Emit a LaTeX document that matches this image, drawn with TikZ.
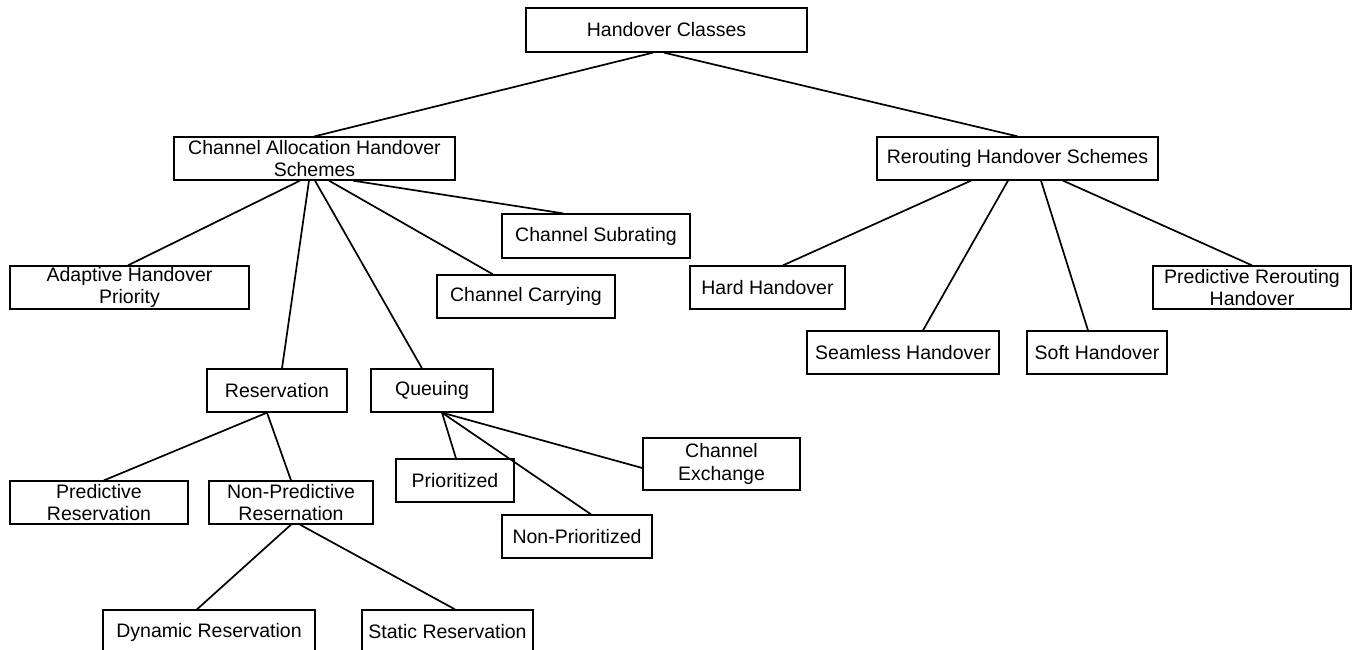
\documentclass[tikz,border=0pt]{standalone}
\usepackage{fontspec}
\setmainfont{Liberation Sans}
\begin{document}
\begin{tikzpicture}[x=1pt,y=-1pt,
  box/.style={draw=black, line width=1.3pt, inner sep=0pt, align=center,
    minimum height=43pt, font=\fontsize{19.5}{22.5}\selectfont},
  link/.style={draw=black, line width=1.7pt}]
\clip (0,0) rectangle (1358,649);
\fill[white] (0,0) rectangle (1358,649);
% nodes
\node[box, minimum width=281pt, minimum height=44pt] (HC) at (666.5,30) {Handover Classes};
\node[box, minimum width=281pt] (CA) at (314.5,158.5) {Channel Allocation Handover\\Schemes};
\node[box, minimum width=281pt] (RH) at (1017.5,158.5) {Rerouting Handover Schemes};
\node[box, minimum width=188pt, minimum height=44pt] (CS) at (596,236) {Channel Subrating};
\node[box, minimum width=239pt] (AP) at (129.5,287.5) {Adaptive Handover\\Priority};
\node[box, minimum width=178pt] (CC) at (526,296.5) {Channel Carrying};
\node[box, minimum width=155pt] (HH) at (767.5,287.5) {Hard Handover};
\node[box, minimum width=198pt] (PR) at (1252,287.5) {Predictive Rerouting\\Handover};
\node[box, minimum width=192pt] (SH) at (903,352.5) {Seamless Handover};
\node[box, minimum width=140pt] (SoH) at (1097,352.5) {Soft Handover};
\node[box, minimum width=140pt] (Res) at (277,390.5) {Reservation};
\node[box, minimum width=122pt] (Q) at (432,390.5) {Queuing};
\node[box, minimum width=118pt] (Pri) at (455,480.5) {Prioritized};
\node[box, minimum width=157pt, minimum height=52pt] (CE) at (721.5,464) {Channel\\Exchange};
\node[box, minimum width=178pt] (PRes) at (99,502.5) {Predictive\\Reservation};
\node[box, minimum width=164pt] (NPR) at (291,502.5) {Non-Predictive\\Resernation};
\node[box, minimum width=150pt] (NP) at (577,536.5) {Non-Prioritized};
\node[box, minimum width=212pt, minimum height=44pt] (DR) at (209,632) {Dynamic Reservation};
\node[box, minimum width=171pt, minimum height=44pt] (SR) at (447.5,632) {Static Reservation};
% connectors
\draw[link] ([xshift=-13.5pt]HC.south) -- (CA.north);
\draw[link] ([xshift=-2.5pt]HC.south) -- (RH.north);
\draw[link] ([xshift=-14.5pt]CA.south) -- ([xshift=-1.5pt]AP.north);
\draw[link] ([xshift=-5.5pt]CA.south) -- ([xshift=5pt]Res.north);
\draw[link] ([xshift=0.5pt]CA.south) -- ([xshift=-10pt]Q.north);
\draw[link] ([xshift=14.5pt]CA.south) -- ([xshift=-33pt]CC.north);
\draw[link] ([xshift=38.5pt]CA.south) -- ([xshift=-33pt]CS.north);
\draw[link] ([xshift=-46.5pt]RH.south) -- ([xshift=15.5pt]HH.north);
\draw[link] ([xshift=-9.5pt]RH.south) -- ([xshift=20pt]SH.north);
\draw[link] ([xshift=23.5pt]RH.south) -- ([xshift=-9pt]SoH.north);
\draw[link] ([xshift=45.5pt]RH.south) -- (PR.north);
\draw[link] ([xshift=-10pt]Res.south) -- ([xshift=5pt]PRes.north);
\draw[link] ([xshift=-10pt]Res.south) -- (NPR.north);
\draw[link] ([xshift=10pt]Q.south) -- ([xshift=1pt]Pri.north);
\draw[link] ([xshift=10pt]Q.south) -- ([xshift=14pt]NP.north);
\draw[link] ([xshift=10pt]Q.south) -- ([yshift=-4pt]CE.west);
\draw[link] (NPR.south) -- ([xshift=-12pt]DR.north);
\draw[link] ([xshift=9pt]NPR.south) -- ([xshift=7.5pt]SR.north);
\end{tikzpicture}
\end{document}
